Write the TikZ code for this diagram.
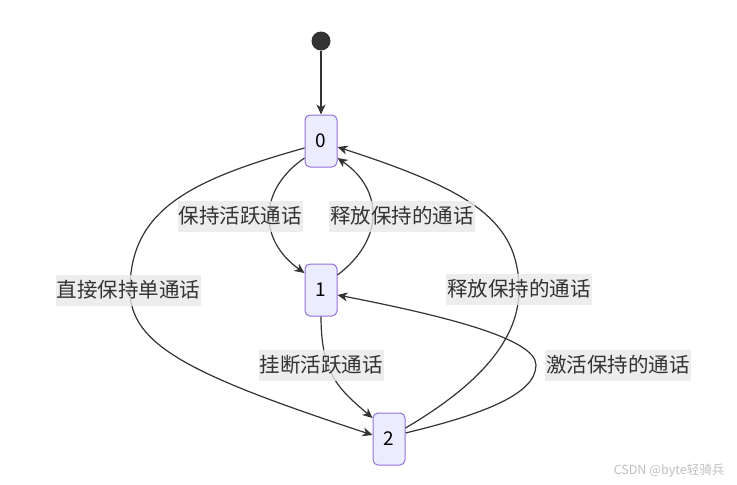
\documentclass[tikz,border=0pt]{standalone}
\usepackage{fontspec}
\setmainfont{Noto Sans CJK SC}
\usetikzlibrary{arrows.meta}
\definecolor{edgec}{HTML}{333333}
\definecolor{nodefill}{HTML}{ECECFF}
\definecolor{nodedraw}{HTML}{9370DB}
\definecolor{lblbg}{HTML}{E8E8E8}
\begin{document}
\begin{tikzpicture}[x=1pt,y=-1pt,
  state/.style={draw=nodedraw,fill=nodefill,line width=1pt,rounded corners=5pt,
    minimum width=32pt,minimum height=52pt,inner sep=0pt,font=\fontsize{19}{19}\selectfont},
  lbl/.style={fill=lblbg,fill opacity=0.8,text opacity=1,inner xsep=1pt,inner ysep=0pt,
    minimum height=31pt,font=\fontsize{20.5}{20.5}\selectfont,text=edgec},
  edge/.style={draw=edgec,line width=1.2pt,-{Stealth[length=10pt,width=9pt,inset=3pt]}}
]
\useasboundingbox (0,0) rectangle (737,485);
\node[circle,fill=edgec,minimum size=19pt,inner sep=0pt] (s) at (321,41) {};
\node[state] (n0) at (321,141) {0};
\node[state] (n1) at (321,290) {1};
\node[state] (n2) at (389,439) {2};

\draw[edge] (s) -- (n0.north);
% 0 -> 1
\draw[edge] ([yshift=-17pt]n0.west) .. controls (258,190) and (258,240) .. ([yshift=17pt]n1.west);
% 1 -> 0
\draw[edge] ([yshift=15pt]n1.east) .. controls (384,240) and (384,190) .. ([yshift=-17pt]n0.east);
% 0 -> 2
\draw[edge] ([yshift=-7pt]n0.west) .. controls (190,180) and (130,210) .. (130,290)
   .. controls (130,345) and (190,375) .. ([yshift=4pt]n2.west);
% 2 -> 0
\draw[edge] ([yshift=11pt]n2.east) .. controls (470,390) and (519,345) .. (519,290)
   .. controls (519,220) and (470,190) .. ([yshift=-6pt]n0.east);
% 1 -> 2
\draw[edge] (n1.south) .. controls (321,375) and (340,390) .. ([yshift=21pt]n2.west);
% 2 -> 1
\draw[edge] ([yshift=6pt]n2.east) .. controls (480,415) and (536,395) .. (536,365)
   .. controls (536,338) and (440,315) .. ([yshift=-5pt]n1.east);

\node[lbl] (l1) at (240,216) {保持活跃通话};
\node[lbl] (l2) at (402,216) {释放保持的通话};
\node[lbl] (l3) at (128.5,290) {直接保持单通话};
\node[lbl] (l4) at (519,289) {释放保持的通话};
\node[lbl] (l5) at (321,365) {挂断活跃通话};
\node[lbl] (l6) at (618,365) {激活保持的通话};

\node[text=black!25,font=\fontsize{12.5}{12.5}\selectfont] (wm) at (669,471) {CSDN @byte轻骑兵};
\end{tikzpicture}
\end{document}
